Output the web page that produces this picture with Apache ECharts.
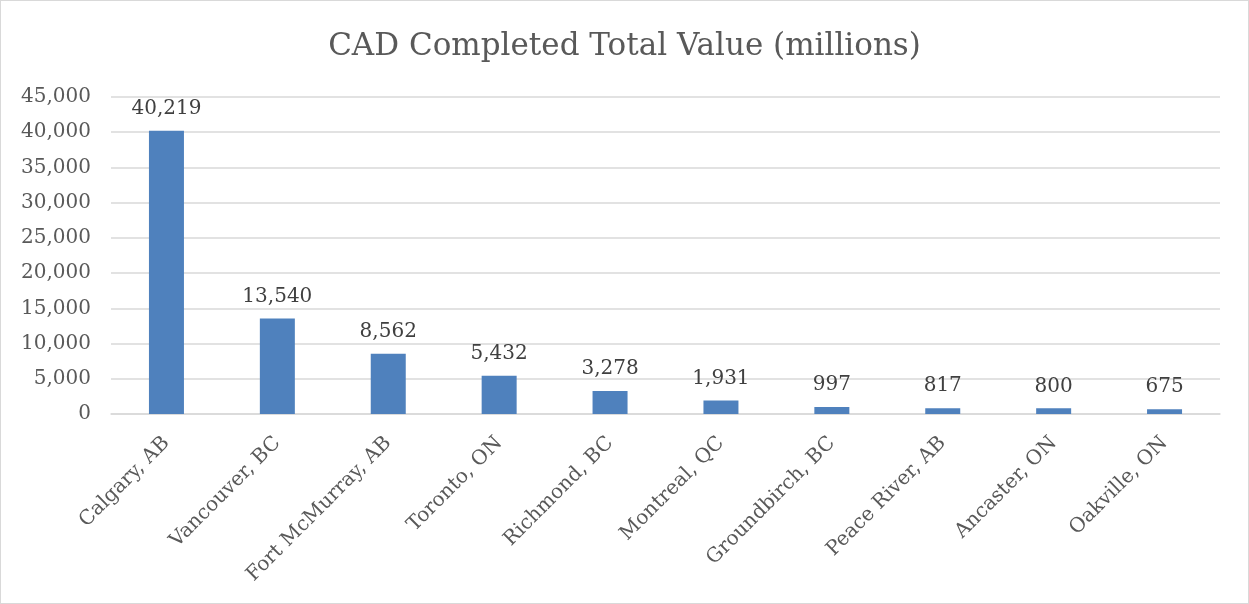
<!DOCTYPE html>
<html><head><meta charset="utf-8">
<script src="https://cdn.jsdelivr.net/npm/echarts@6/dist/echarts.min.js"></script>
<style>html,body{margin:0;padding:0;background:#fff}#c{width:1249px;height:604px;box-sizing:border-box;border:1px solid #d9d9d9}</style>
</head><body><div id="c"></div>
<script>
const categories = ["Calgary, AB","Vancouver, BC","Fort McMurray, AB","Toronto, ON","Richmond, BC","Montreal, QC","Groundbirch, BC","Peace River, AB","Ancaster, ON","Oakville, ON"];
const values = [40219,13540,8562,5432,3278,1931,997,817,800,675];
const FONT = "DejaVu Serif";
const chart = echarts.init(document.getElementById('c'));
chart.setOption({
  animation:false,
  title:{text:"CAD Completed Total Value (millions)",left:'center',top:25,textStyle:{fontFamily:FONT,fontSize:31,fontWeight:'normal',color:'#595959'}},
  grid:{left:110,right:28,top:96,bottom:189,containLabel:false},
  xAxis:{type:'category',data:categories,
    axisLine:{lineStyle:{color:'#d9d9d9',width:1.5}},axisTick:{show:false},
    axisLabel:{rotate:45,interval:0,fontFamily:FONT,fontSize:20,color:'#595959',margin:26}},
  yAxis:{type:'value',min:0,max:45000,interval:5000,
    axisLine:{show:false},axisTick:{show:false},
    splitLine:{lineStyle:{color:'#d9d9d9',width:1.5}},
    axisLabel:{fontFamily:FONT,fontSize:20,color:'#595959',margin:20,formatter:v=>v.toLocaleString('en-US')}},
  series:[{type:'bar',data:values,barWidth:35,itemStyle:{color:'#4f81bd'},
    label:{show:true,position:'top',distance:12,fontFamily:FONT,fontSize:20,color:'#404040',formatter:p=>p.value.toLocaleString('en-US')}}]
});
</script></body></html>
